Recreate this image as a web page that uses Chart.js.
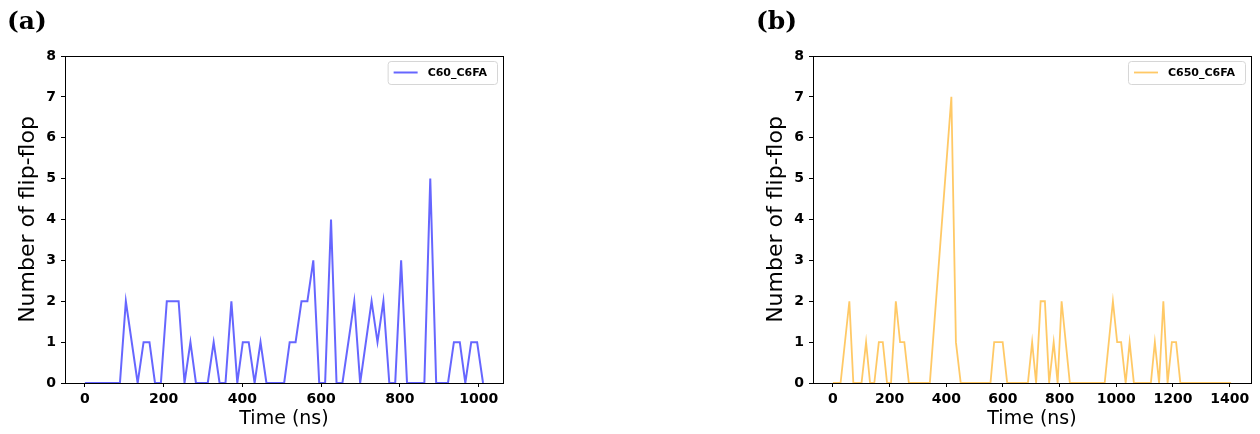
<!DOCTYPE html>
<html lang="en">
<head>
  <meta charset="UTF-8">
  <title>Flip-flop counts</title>
  <script src="https://cdn.jsdelivr.net/npm/chart.js"></script>
  <style>
    body { margin: 0; background: #fff; }
    #wrap { position: relative; width: 1260px; height: 434px; overflow: hidden; }
    canvas { position: absolute; top: 0; }
    .panel {
      position: absolute;
      font-family: "DejaVu Serif", serif;
      font-weight: bold;
      font-size: 25px;
      line-height: 1;
    }
  </style>
</head>
<body>
  <div id="wrap">
    <canvas id="chartA" width="630" height="434" style="left:0"></canvas>
    <canvas id="chartB" width="630" height="434" style="left:630px"></canvas>
    <div class="panel" style="left:7px; top:8px">(a)</div>
    <div class="panel" style="left:756px; top:8px">(b)</div>
  </div>

  <script>
    // values (time in ns, count of flip-flops)
    const timesA = [0, 89, 104, 134, 149, 164, 178, 193, 208, 238, 253, 268, 282, 312, 327, 342, 357, 372, 387, 401,
      416, 431, 446, 461, 506, 520, 535, 550, 565, 580, 595, 610, 625, 639, 654, 684, 699, 728, 743, 758,
      773, 788, 803, 818, 862, 877, 892, 922, 937, 952, 966, 981, 996, 1011];
    const countsA = [0, 0, 2, 0, 1, 1, 0, 0, 2, 2, 0, 1, 0, 0, 1, 0, 0, 2, 0, 1,
      1, 0, 1, 0, 0, 1, 1, 2, 2, 3, 0, 0, 4, 0, 0, 2, 0, 2, 1, 2,
      0, 0, 3, 0, 0, 5, 0, 0, 1, 1, 0, 1, 1, 0];

    const timesB = [0, 27, 58, 72, 101, 117, 131, 146, 162, 176, 191, 205, 222, 237, 252, 268, 342, 418,
      434, 451, 556, 569, 599, 615, 688, 703, 717, 733, 748, 763, 779, 793, 807, 836, 959, 988,
      1003, 1017, 1033, 1047, 1062, 1122, 1136, 1151, 1166, 1181, 1196, 1211, 1226, 1405];
    const countsB = [0, 0, 2, 0, 0, 1, 0, 0, 1, 1, 0, 0, 2, 1, 1, 0, 0, 7,
      1, 0, 0, 1, 1, 0, 0, 1, 0, 2, 2, 0, 1, 0, 2, 0, 0, 2,
      1, 1, 0, 1, 0, 0, 1, 0, 2, 0, 1, 1, 0, 0];

    const labelA = 'C60_C6FA';
    const labelB = 'C650_C6FA';
    const xTicksA = [0, 200, 400, 600, 800, 1000];
    const xTicksB = [0, 200, 400, 600, 800, 1000, 1200, 1400];
    const yTicks = [0, 1, 2, 3, 4, 5, 6, 7, 8];

    const tickFont = { family: 'DejaVu Sans', size: 14, weight: 'bold' };

    // frame round the plot area plus a small legend box in its top right corner
    const framePlugin = {
      id: 'frame',
      afterDraw(chart) {
        const { ctx, chartArea: a } = chart;
        ctx.save();
        ctx.strokeStyle = '#000';
        ctx.lineWidth = 1;
        ctx.strokeRect(Math.round(a.left) + 0.5, Math.round(a.top) + 0.5,
          Math.round(a.right - a.left), Math.round(a.bottom - a.top));

        const ds = chart.data.datasets[0];
        ctx.font = 'bold 11px "DejaVu Sans"';
        const tw = ctx.measureText(ds.label).width;
        const w = tw + 50, h = 23;
        const x = a.right - 6 - w, y = a.top + 5;
        ctx.beginPath();
        ctx.roundRect(x + 0.5, y + 0.5, w, h, 3);
        ctx.fillStyle = 'rgba(255,255,255,0.8)';
        ctx.fill();
        ctx.strokeStyle = '#d6d6d6';
        ctx.stroke();
        ctx.beginPath();
        ctx.moveTo(x + 6, y + h / 2);
        ctx.lineTo(x + 30, y + h / 2);
        ctx.strokeStyle = ds.borderColor;
        ctx.lineWidth = ds.borderWidth;
        ctx.stroke();
        ctx.fillStyle = '#000';
        ctx.textBaseline = 'middle';
        ctx.fillText(ds.label, x + 40, y + h / 2 + 1);
        ctx.restore();
      }
    };

    function makeChart(canvas, times, counts, label, color, width, xTicks, xMin, xMax, padLeft, padRight) {
      return new Chart(canvas, {
        type: 'line',
        data: {
          datasets: [{
            label: label,
            data: times.map((t, i) => ({ x: t, y: counts[i] })),
            borderColor: color,
            borderWidth: width,
            pointRadius: 0,
            tension: 0,
            fill: false
          }]
        },
        options: {
          responsive: false,
          animation: false,
          events: [],
          layout: { padding: { left: padLeft, right: padRight, top: 56, bottom: 0 } },
          plugins: { legend: { display: false }, tooltip: { enabled: false } },
          scales: {
            x: {
              type: 'linear',
              min: xMin,
              max: xMax,
              afterBuildTicks: s => { s.ticks = xTicks.map(v => ({ value: v })); },
              afterFit: s => { s.height = 51; },
              grid: { drawOnChartArea: false, drawTicks: true, tickLength: 4, color: '#000' },
              border: { display: false },
              ticks: { font: tickFont, color: '#000', padding: 4, maxRotation: 0, callback: v => String(v) },
              title: { display: true, text: 'Time (ns)', font: { family: 'DejaVu Sans', size: 19 }, color: '#000', padding: { bottom: 4 } }
            },
            y: {
              min: 0,
              max: 8,
              afterBuildTicks: s => { s.ticks = yTicks.map(v => ({ value: v })); },
              afterFit: s => { s.width = 65; },
              grid: { drawOnChartArea: false, drawTicks: true, tickLength: 4, color: '#000' },
              border: { display: false },
              ticks: { font: tickFont, color: '#000', padding: 5, callback: v => String(v) },
              title: { display: true, text: 'Number of flip-flop', font: { family: 'DejaVu Sans', size: 22 }, color: '#000', padding: { top: 15 } }
            }
          }
        },
        plugins: [framePlugin]
      });
    }

    makeChart(document.getElementById('chartA'), timesA, countsA, labelA,
      'rgba(0,0,255,0.6)', 2, xTicksA, -50.5, 1061.7, 0, 127);
    makeChart(document.getElementById('chartB'), timesB, countsB, labelB,
      'rgba(255,165,0,0.6)', 1.8, xTicksB, -70.3, 1475.3, 118, 9);
  </script>
</body>
</html>
